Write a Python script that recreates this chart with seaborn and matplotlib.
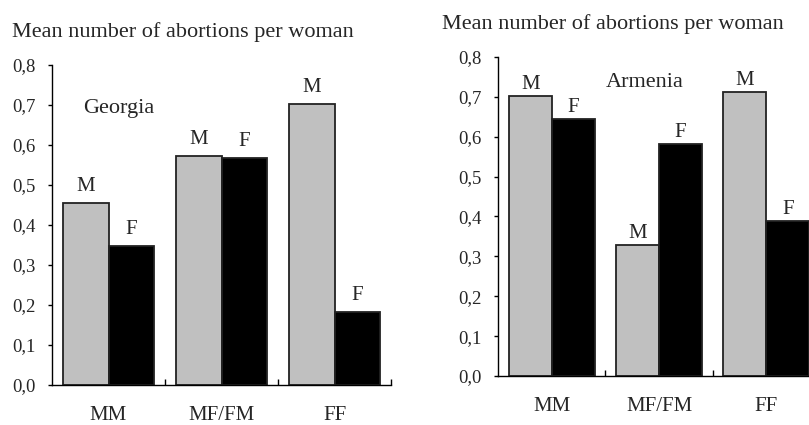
# Mean number of abortions per woman, Georgia vs Armenia, by sex of first two children
import pandas as pd
import matplotlib
matplotlib.use("Agg")
import matplotlib.pyplot as plt
import seaborn as sns

pairs = ["MM", "MF/FM", "FF"]
sexes = ["M", "F"]
georgia_m = [0.455, 0.572, 0.702]
georgia_f = [0.347, 0.567, 0.182]
armenia_m = [0.702, 0.329, 0.712]
armenia_f = [0.645, 0.582, 0.389]
yticks = [0.0, 0.1, 0.2, 0.3, 0.4, 0.5, 0.6, 0.7, 0.8]
ytick_labels = ["0,0", "0,1", "0,2", "0,3", "0,4", "0,5", "0,6", "0,7", "0,8"]
title = "Mean number of abortions per woman"

sns.set_style("ticks")
plt.rcParams["font.family"] = ["Liberation Serif", "DejaVu Serif"]
plt.rcParams["font.size"] = 13


def to_long(m_vals, f_vals):
    rows = []
    for p, m, f in zip(pairs, m_vals, f_vals):
        rows.append({"pair": p, "sex": "M", "value": m})
        rows.append({"pair": p, "sex": "F", "value": f})
    return pd.DataFrame(rows)


def draw_panel(ax, df, country, cx, cy, lab_pad):
    sns.barplot(data=df, x="pair", y="value", hue="sex", hue_order=sexes,
                palette={"M": "#c0c0c0", "F": "black"}, saturation=1,
                edgecolor="#222222", linewidth=1.3, width=0.8, gap=0,
                legend=False, ax=ax)
    for cont, lab in zip(ax.containers, sexes):
        ax.bar_label(cont, labels=[lab] * len(pairs), padding=lab_pad, fontsize=15)
    ax.set_ylim(0, 0.8)
    ax.set_xlim(-0.5, 2.5)
    ax.set_yticks(yticks)
    ax.set_yticklabels(ytick_labels, fontsize=13.5)
    ax.set_xticks(range(len(pairs)))
    ax.set_xticklabels(pairs, fontsize=15)
    ax.set_xticks([0.5, 1.5, 2.5], minor=True)
    ax.tick_params(axis="x", which="major", length=0, pad=15)
    ax.tick_params(axis="x", which="minor", direction="in", length=4, width=1, color="black")
    ax.tick_params(axis="y", direction="out", length=3, width=1, pad=9, color="black")
    ax.set_xlabel("")
    ax.set_ylabel("")
    sns.despine(ax=ax)
    for s in ["left", "bottom"]:
        ax.spines[s].set_color("black")
        ax.spines[s].set_linewidth(1)
    ax.text(cx, cy, country, ha="center", va="center", fontsize=16)


W, H = 809, 425
fig = plt.figure(figsize=(W / 100, H / 100), dpi=100)

ax1 = fig.add_axes([52 / W, (H - 385) / H, 339 / W, 320 / H])
draw_panel(ax1, to_long(georgia_m, georgia_f), "Georgia", 0.09, 0.69, 5)

ax2 = fig.add_axes([498 / W, (H - 376) / H, 322 / W, 319 / H])
draw_panel(ax2, to_long(armenia_m, armenia_f), "Armenia", 0.87, 0.737, 1.5)

fig.text(12 / W, 1 - 32 / H, title, ha="left", va="center", fontsize=16)
fig.text(442 / W, 1 - 24 / H, title, ha="left", va="center", fontsize=16)

fig.savefig("out.png", dpi=100)
